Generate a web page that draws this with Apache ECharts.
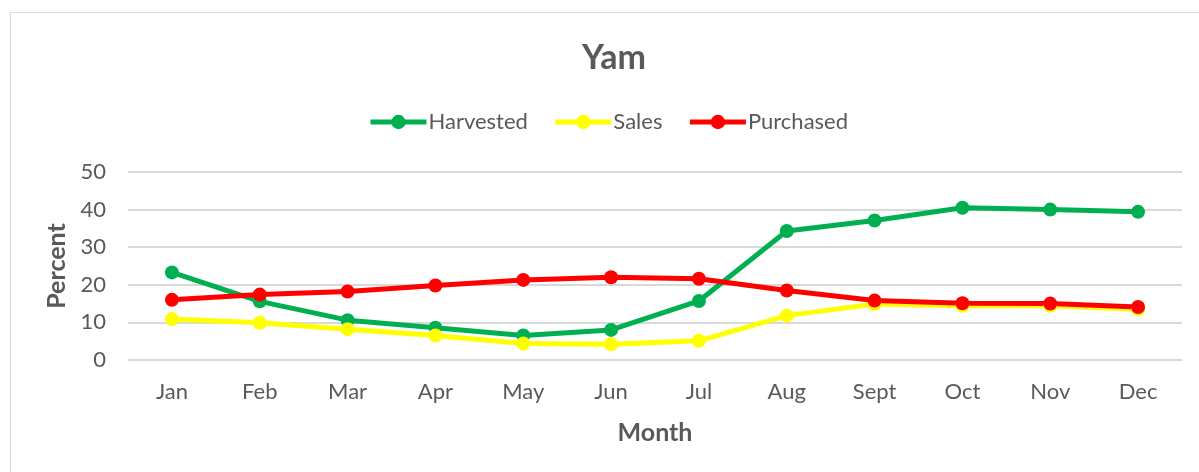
<!DOCTYPE html>
<html><head><meta charset="utf-8">
<script src="https://cdn.jsdelivr.net/npm/echarts@6/dist/echarts.min.js"></script>
<style>
html,body{margin:0;padding:0;background:#fff;}
#frame{position:absolute;left:10px;top:12px;width:1200px;height:470px;border:1px solid #d9d9d9;box-sizing:border-box;}
#c{position:absolute;left:0;top:0;width:1199px;height:472px;}
</style></head>
<body>
<div id="frame"></div>
<div id="c"></div>
<script>
const months = ['Jan','Feb','Mar','Apr','May','Jun','Jul','Aug','Sept','Oct','Nov','Dec'];
const harvested = [23.3,15.6,10.6,8.6,6.5,8.0,15.7,34.3,37.1,40.5,40.0,39.4];
const sales = [10.9,9.9,8.2,6.5,4.4,4.2,5.1,11.8,14.9,14.4,14.4,13.5];
const purchased = [16.0,17.4,18.2,19.8,21.3,22.0,21.6,18.5,15.8,15.1,15.0,14.1];
const yTicks = [0,10,20,30,40,50];

const font = 'Lato, "Open Sans", sans-serif';
const grey = '#595959';
const chart = echarts.init(document.getElementById('c'));
function mk(name, data, color){
  return {name, type:'line', data, symbol:'circle', symbolSize:14,
    lineStyle:{width:5,color}, itemStyle:{color}, color};
}
chart.setOption({
  animation:false,
  title:{text:'Yam',left:609,textAlign:'center',top:36,
    textStyle:{fontFamily:font,fontSize:34,fontWeight:'bold',color:grey}},
  legend:{top:106,left:363,itemWidth:56,itemHeight:18,itemGap:25,
    lineStyle:{width:5},
    textStyle:{fontFamily:font,fontSize:22,color:grey,padding:[0,0,0,-3]},
    data:['Harvested','Sales','Purchased']},
  grid:{left:128,right:17,top:172,bottom:112},
  xAxis:{type:'category',data:months,name:'Month',nameLocation:'middle',nameGap:60,
    nameTextStyle:{fontFamily:font,fontSize:25,fontWeight:'bold',color:grey},
    axisLine:{show:true,lineStyle:{color:'#d9d9d9',width:1}},axisTick:{show:false},
    axisLabel:{fontFamily:font,fontSize:22,color:grey,margin:21}},
  yAxis:{type:'value',min:yTicks[0],max:yTicks[yTicks.length-1],interval:10,
    name:'Percent',nameLocation:'middle',nameGap:58,
    nameTextStyle:{fontFamily:font,fontSize:25,fontWeight:'bold',color:grey},
    axisLine:{show:false},axisTick:{show:false},
    axisLabel:{fontFamily:font,fontSize:22,color:grey,margin:22}},
  series:[mk('Harvested',harvested,'#00B050'),mk('Sales',sales,'#FFFF00'),mk('Purchased',purchased,'#FF0000')]
});
chart.setOption({yAxis:{splitLine:{lineStyle:{color:'#d9d9d9',width:2}}}});
</script>
</body></html>
